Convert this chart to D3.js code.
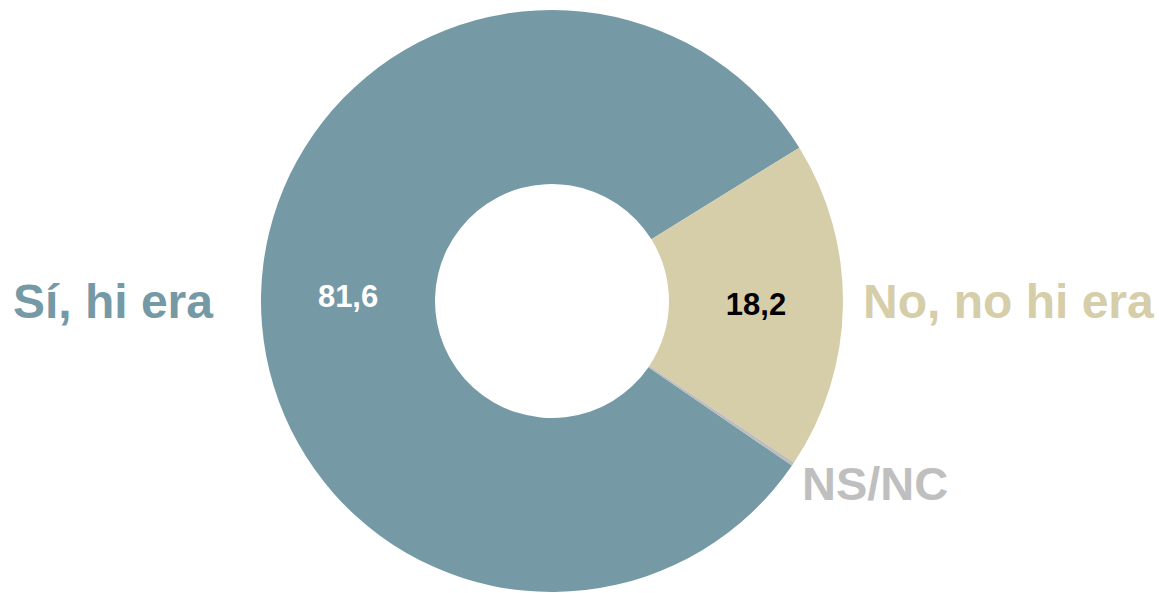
<!DOCTYPE html>
<html>
<head>
<meta charset="utf-8">
<script src="https://cdn.jsdelivr.net/npm/d3@7"></script>
<style>
  html, body { margin: 0; padding: 0; background: #ffffff; }
  svg { display: block; }
  text { font-family: "Liberation Sans", Arial, sans-serif; font-weight: bold; }
</style>
</head>
<body>
<svg id="chart" width="1159" height="593"></svg>
<script>
const categories = ["Sí, hi era", "No, no hi era", "NS/NC"];
const values = [81.6, 18.2, 0.2];
const valueLabels = ["81,6", "18,2", ""];
const colors = ["#7599A5", "#D6CDA9", "#BDBDBD"];
const labelColors = ["#7599A5", "#D6CDA9", "#BFBFBF"];
const valueColors = ["#ffffff", "#000000", "#000000"];

const W = 1159, H = 593;
const cx = 552, cy = 301;
const outerR = 291, innerR = 117;
const startDeg = 58.2 - values[0] / d3.sum(values) * 360;

const svg = d3.select("#chart");
const g = svg.append("g").attr("transform", `translate(${cx},${cy})`);

const pie = d3.pie().sort(null).value(d => d)
  .startAngle(startDeg * Math.PI / 180)
  .endAngle(startDeg * Math.PI / 180 + 2 * Math.PI);
const arcs = pie(values);
const arc = d3.arc().innerRadius(innerR).outerRadius(outerR);

g.selectAll("path.slice").data(arcs).enter().append("path")
  .attr("class", "slice")
  .attr("d", arc)
  .attr("fill", (d, i) => colors[i]);

// value labels at centroids
g.selectAll("text.val").data(arcs).enter().append("text")
  .attr("class", "val")
  .attr("x", d => arc.centroid(d)[0])
  .attr("y", d => arc.centroid(d)[1])
  .attr("text-anchor", "middle")
  .attr("dominant-baseline", "central")
  .attr("font-size", 31)
  .attr("fill", (d, i) => valueColors[i])
  .text((d, i) => valueLabels[i]);

// category labels
const lbl = g.append("g");
// Sí
lbl.append("text")
  .attr("x", -outerR - 48).attr("y", 0)
  .attr("text-anchor", "end").attr("dominant-baseline", "central")
  .attr("font-size", 48).attr("fill", labelColors[0])
  .text(categories[0]);
// No
lbl.append("text")
  .attr("x", outerR + 20).attr("y", 0)
  .attr("text-anchor", "start").attr("dominant-baseline", "central")
  .attr("font-size", 48).attr("fill", labelColors[1])
  .text(categories[1]);
// NS/NC
const a3 = (arcs[2].startAngle + arcs[2].endAngle) / 2;
lbl.append("text")
  .attr("x", Math.sin(a3) * outerR + 9)
  .attr("y", -Math.cos(a3) * outerR + 36)
  .attr("text-anchor", "start")
  .attr("font-size", 47).attr("fill", labelColors[2])
  .text(categories[2]);
</script>
</body>
</html>
